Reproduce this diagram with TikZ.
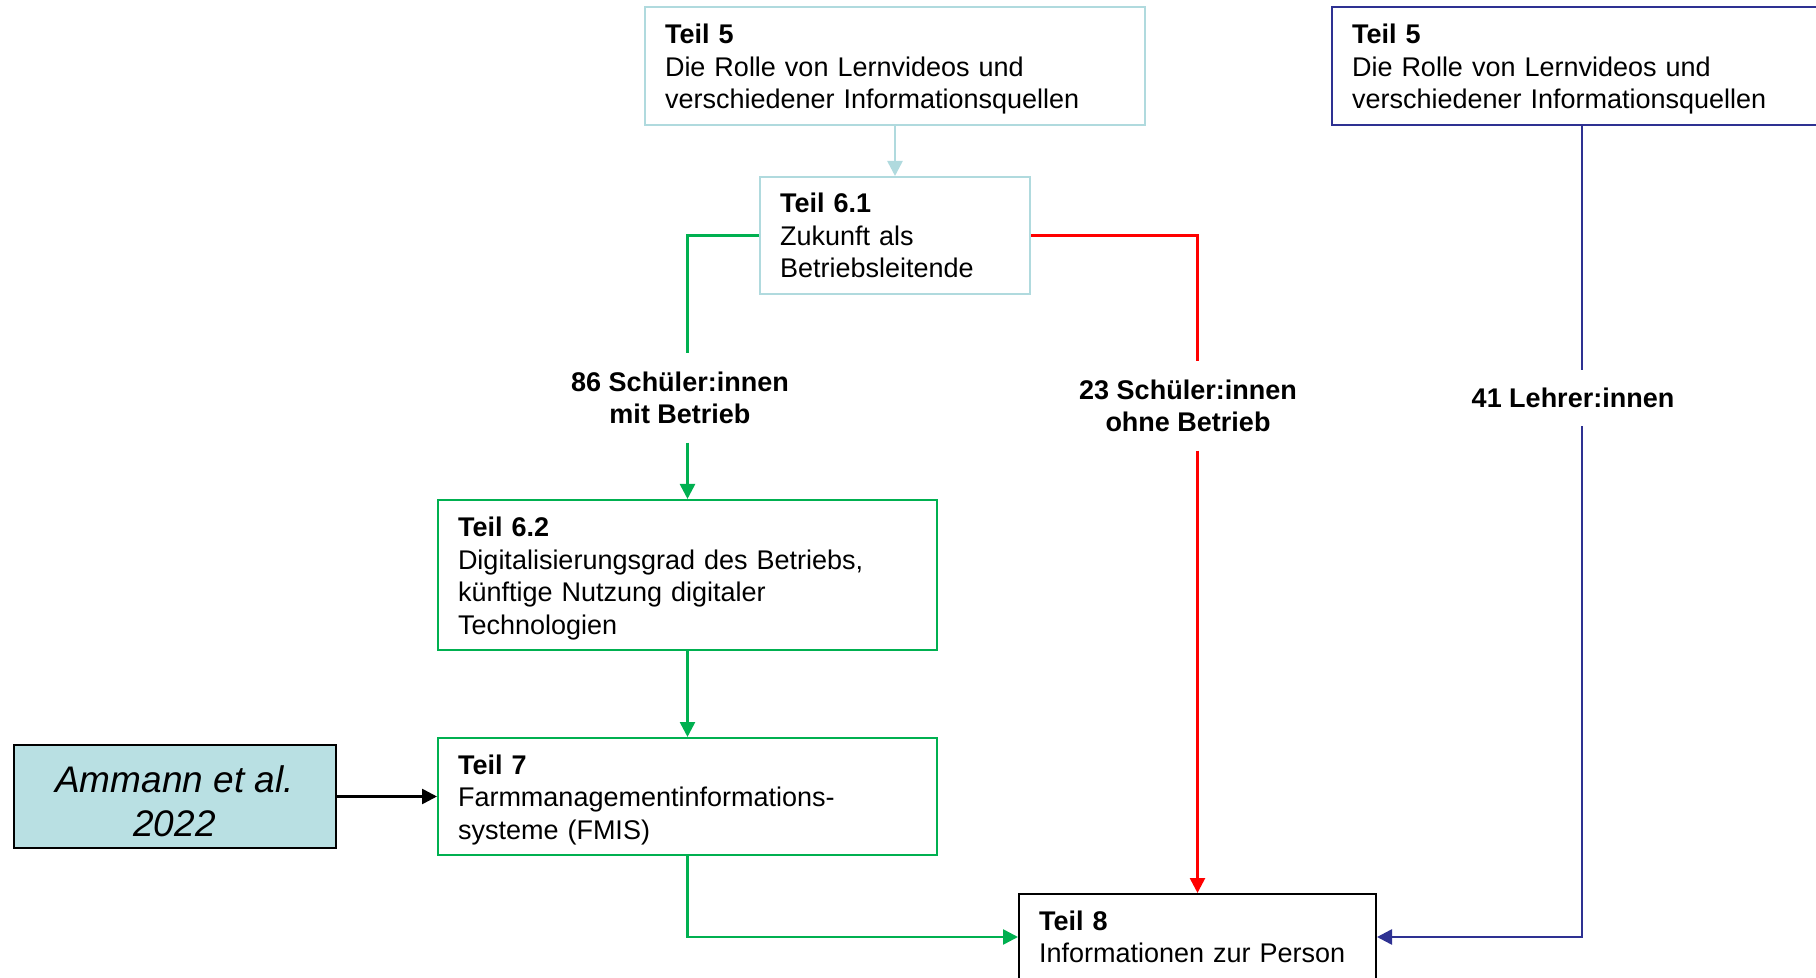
\documentclass[tikz,border=0pt]{standalone}
\usepackage{fontspec}
\setmainfont{Liberation Sans}
\usetikzlibrary{arrows.meta}
\definecolor{lblue}{RGB}{176,218,222}
\definecolor{ammfill}{RGB}{185,224,227}
\definecolor{mgreen}{RGB}{0,176,80}
\definecolor{mred}{RGB}{255,0,0}
\definecolor{dblue}{RGB}{46,49,146}
\newcommand{\tophd}{\rule{0pt}{13.2pt}}
\tikzset{
  boxstyle/.style={draw, line width=1pt, inner xsep=10pt, inner ysep=0pt, align=left,
    font=\fontsize{13.5}{16.25}\selectfont},
  lab/.style={inner xsep=2pt, inner ysep=9pt, align=center,
    font=\fontsize{13.5}{16.25}\selectfont\bfseries},
  conn/.style={line width=1.3pt},
  tip/.style={-{Triangle[length=7.5pt,width=7.5pt]}}
}
\begin{document}
\begin{tikzpicture}[x=0.5pt,y=-0.5pt]
\useasboundingbox (0,0) rectangle (1816,978);
% boxes
\node[boxstyle, draw=lblue, text width=230pt, minimum height=59pt] (t5a) at (895,66)
  {\tophd\textbf{Teil 5}\\Die Rolle von Lernvideos und\\verschiedener Informationsquellen};
\node[boxstyle, draw=dblue, text width=230pt, minimum height=59pt] (t5b) at (1582,66)
  {\tophd\textbf{Teil 5}\\Die Rolle von Lernvideos und\\verschiedener Informationsquellen};
\node[boxstyle, draw=lblue, text width=115pt, minimum height=58.5pt] (t61) at (895,235.5)
  {\textbf{Teil 6.1}\\Zukunft als\\Betriebsleitende};
\node[boxstyle, draw=mgreen, text width=229.5pt, minimum height=75pt] (t62) at (687.5,575)
  {\tophd\textbf{Teil 6.2}\\Digitalisierungsgrad des Betriebs,\\künftige Nutzung digitaler\\Technologien};
\node[boxstyle, draw=mgreen, text width=229.5pt, minimum height=58.5pt] (t7) at (687.5,796.5)
  {\tophd\textbf{Teil 7}\\Farmmanagementinformations-\\systeme (FMIS)};
\node[draw=black, line width=1pt, fill=ammfill, minimum width=161pt, minimum height=51.5pt,
  inner sep=0pt] (amm) at (174.5,796.5) {};
\node[align=center, inner sep=0pt, font=\fontsize{18.5}{22}\selectfont\itshape] (ammtxt)
  at (174.5,801) {Ammann et al.\\2022};
\node[boxstyle, draw=black, text width=158.5pt, minimum height=43pt] (t8) at (1197.5,937)
  {\textbf{Teil 8}\\Informationen zur Person};
% labels
\node[lab] (l86) at (680,398) {86 Schüler:innen\\mit Betrieb};
\node[lab] (l23) at (1188,406) {23 Schüler:innen\\ohne Betrieb};
\node[lab] (l41) at (1573,398) {41 Lehrer:innen};
% connectors
\draw[conn, lblue, tip] (t5a.south) -- (t61.north);
\draw[conn, mgreen] (t61.west) -| (l86.north -| t62.north);
\draw[conn, mgreen, tip] (l86.south -| t62.north) -- (t62.north);
\draw[conn, mgreen, tip] (t62.south) -- (t7.north);
\draw[conn, mgreen, tip] (t7.south) |- (t8.west);
\draw[conn, mred] (t61.east) -| (l23.north -| t8.north);
\draw[conn, mred, tip] (l23.south -| t8.north) -- (t8.north);
\draw[conn, dblue] (t5b.south) -- (l41.north -| t5b.south);
\draw[conn, dblue, tip] (l41.south -| t5b.south) |- (t8.east);
\draw[conn, black, tip] (amm.east) -- (t7.west);
\end{tikzpicture}
\end{document}
